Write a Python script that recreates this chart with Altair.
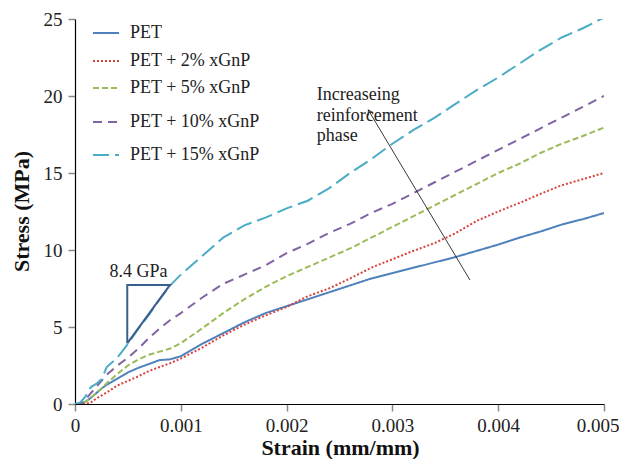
import altair as alt
import pandas as pd
import math

# ---------------- data ----------------
strain = [0, 0.00005, 0.0001, 0.00015, 0.0002, 0.00025, 0.0003, 0.0004, 0.0005, 0.0006,
          0.0007, 0.0008, 0.0009, 0.001, 0.0012, 0.0014, 0.0016, 0.0018, 0.002, 0.0022,
          0.0024, 0.0026, 0.0028, 0.003, 0.0032, 0.0034, 0.0036, 0.0038, 0.004, 0.0042,
          0.0044, 0.0046, 0.0048, 0.005]

pet = [0, 0, 0.15, 0.4, 0.7, 1.0, 1.25, 1.65, 2.05, 2.35, 2.6, 2.85, 2.9, 3.1, 3.9, 4.6,
       5.3, 5.9, 6.35, 6.8, 7.25, 7.7, 8.15, 8.5, 8.85, 9.2, 9.55, 9.95, 10.35, 10.8, 11.2,
       11.65, 12.0, 12.4]
pet2 = [0, 0, 0, 0.1, 0.35, 0.55, 0.75, 1.2, 1.5, 1.8, 2.15, 2.4, 2.65, 2.95, 3.65, 4.45,
        5.15, 5.75, 6.3, 7.0, 7.5, 8.15, 8.85, 9.4, 9.95, 10.45, 11.1, 11.9, 12.5, 13.05,
        13.65, 14.2, 14.6, 15.0]
pet5 = [0, 0, 0.15, 0.4, 0.7, 1.0, 1.35, 1.95, 2.5, 2.9, 3.2, 3.4, 3.6, 3.95, 4.9, 5.9,
        6.8, 7.6, 8.3, 8.9, 9.5, 10.1, 10.8, 11.5, 12.2, 12.9, 13.6, 14.3, 15.0, 15.6,
        16.3, 16.9, 17.4, 17.95]
pet10 = [0, 0, 0.3, 0.7, 1.1, 1.5, 1.9, 2.5, 3.0, 3.6, 4.3, 4.9, 5.45, 5.9, 6.9, 7.8,
         8.4, 9.0, 9.8, 10.4, 11.1, 11.7, 12.4, 13.0, 13.7, 14.4, 15.1, 15.8, 16.5, 17.2,
         17.9, 18.6, 19.3, 20.0]
pet15 = [0, 0.1, 0.5, 1.1, 1.3, 1.6, 2.4, 3.0, 3.9, 4.9, 5.8, 6.8, 7.7, 8.4, 9.6, 10.8,
         11.6, 12.1, 12.7, 13.2, 14.0, 15.0, 15.9, 16.9, 17.8, 18.6, 19.5, 20.4, 21.2,
         22.1, 23.0, 23.8, 24.4, 25.1]

series = ["PET", "PET + 2% xGnP", "PET + 5% xGnP", "PET + 10% xGnP", "PET + 15% xGnP"]
values = [pet, pet2, pet5, pet10, pet15]

colors = ["#4F81BD", "#D9413B", "#9BBB59", "#8064A2", "#4BACC6"]
dashes = [[1, 0], [2, 2], [6, 3], [9, 6], [16, 6]]

# triangle (slope annotation)
tri_x = [0.000494, 0.000494, 0.000898, 0.000494]
tri_y = [3.94, 7.73, 7.73, 3.94]
tri_label = "8.4 GPa"

# arrow annotation
arrow_tail = (0.003733, 8.05)
arrow_tip = (0.002772, 19.09)
arrow_text = ["Increaseing", "reinforcement", "phase"]

# legend layout (pixels inside plot area)
legend_y = [14, 42, 69, 103, 136]

# ---------------- geometry ----------------
W, H = 529, 385
XMAX, YMAX = 0.005, 25

rows = []
for s, v in zip(series, values):
    for i, (x, y) in enumerate(zip(strain, v)):
        rows.append({"series": s, "strain": x, "stress": y, "order": i})
df = pd.DataFrame(rows)

color_scale = alt.Scale(domain=series, range=colors)
dash_scale = alt.Scale(domain=series, range=dashes)

FONT = "Liberation Serif"

last_test = "datum.value >= 0.0049"
xenc = alt.X("strain:Q", scale=alt.Scale(domain=[0, XMAX], nice=False),
             axis=alt.Axis(values=[0, 0.001, 0.002, 0.003, 0.004, 0.005], format="~g",
                           title="Strain (mm/mm)", grid=False, titleX=265, titleY=50,
                           titleBaseline="alphabetic", titleAlign="center",
                           labelFlush=False, labelPadding=5,
                           labelAlign={"condition": {"test": last_test, "value": "right"},
                                       "value": "center"},
                           labelOffset={"condition": {"test": last_test, "value": 15},
                                        "value": 0}))
yenc = alt.Y("stress:Q", scale=alt.Scale(domain=[0, YMAX], nice=False),
             axis=alt.Axis(values=[0, 5, 10, 15, 20, 25], title="Stress (MPa)", grid=False,
                           titleX=-54, titleY=192, titleBaseline="middle", titleAlign="center",
                           titleAngle=270, labelFlush=False, labelPadding=6))

lines = alt.Chart(df).mark_line(strokeWidth=2, clip=True).encode(
    x=xenc, y=yenc,
    color=alt.Color("series:N", scale=color_scale, legend=None),
    strokeDash=alt.StrokeDash("series:N", scale=dash_scale, legend=None),
    order="order:Q",
    detail="series:N",
)

tri_df = pd.DataFrame({"strain": tri_x, "stress": tri_y, "order": list(range(len(tri_x)))})
tri = alt.Chart(tri_df).mark_line(strokeWidth=2, color="#3B5E8C").encode(
    x="strain:Q", y="stress:Q", order="order:Q")

tri_lab_df = pd.DataFrame({"strain": [0.0006], "stress": [8.54], "t": [tri_label]})
tri_lab = alt.Chart(tri_lab_df).mark_text(font=FONT, fontSize=18, color="#222",
                                          baseline="middle", align="center").encode(
    x="strain:Q", y="stress:Q", text="t:N")

arr_df = pd.DataFrame({"strain": [arrow_tail[0]], "stress": [arrow_tail[1]],
                       "strain2": [arrow_tip[0]], "stress2": [arrow_tip[1]]})
arrow = alt.Chart(arr_df).mark_rule(strokeWidth=0.9, color="#222").encode(
    x="strain:Q", y="stress:Q", x2="strain2:Q", y2="stress2:Q")

dxp = (arrow_tip[0] - arrow_tail[0]) / XMAX * W
dyp = (arrow_tip[1] - arrow_tail[1]) / YMAX * H
ang = math.degrees(math.atan2(dxp, dyp)) % 360
head_df = pd.DataFrame({"strain": [arrow_tip[0]], "stress": [arrow_tip[1]]})
head = alt.Chart(head_df).mark_point(shape="M-0.7,1.2L0,0L0.7,1.2", size=64, filled=False,
                                     strokeWidth=0.9, color="#222", angle=ang, opacity=1).encode(
    x="strain:Q", y="stress:Q")

txt_df = pd.DataFrame({"strain": [0.002285], "stress": [20.06], "t": [arrow_text]})
txt = alt.Chart(txt_df).mark_text(font=FONT, fontSize=18, lineHeight=20.5, color="#222",
                                  align="left", baseline="middle").encode(
    x="strain:Q", y="stress:Q", text="t")

leg_df = pd.DataFrame({"series": series, "ly": legend_y})
leg_lines = alt.Chart(leg_df).mark_rule(strokeWidth=2).encode(
    x=alt.value(18), x2=alt.value(44),
    y=alt.Y("ly:Q", scale=None),
    color=alt.Color("series:N", scale=color_scale, legend=None),
    strokeDash=alt.StrokeDash("series:N", scale=dash_scale, legend=None),
)
leg_text = alt.Chart(leg_df).mark_text(font=FONT, fontSize=18, color="#222", align="left",
                                       baseline="middle").encode(
    x=alt.value(55), y=alt.Y("ly:Q", scale=None), text="series:N")

chart = alt.layer(lines, tri, tri_lab, arrow, head, txt, leg_lines, leg_text).properties(
    width=W, height=H,
    autosize=alt.AutoSizeParams(type="none"),
    padding={"left": 67, "top": 11, "right": 15, "bottom": 55},
).configure_view(stroke=None).configure_axis(
    domainColor="#000", domainWidth=1.2, tickColor="#888", tickWidth=1.5, tickSize=7,
    labelFont=FONT, labelFontSize=19, labelColor="#222",
    titleFont=FONT, titleFontSize=22, titleFontWeight="bold", titleColor="#111",
)

chart.save("out.html", embed_options={"renderer": "svg", "actions": False})
